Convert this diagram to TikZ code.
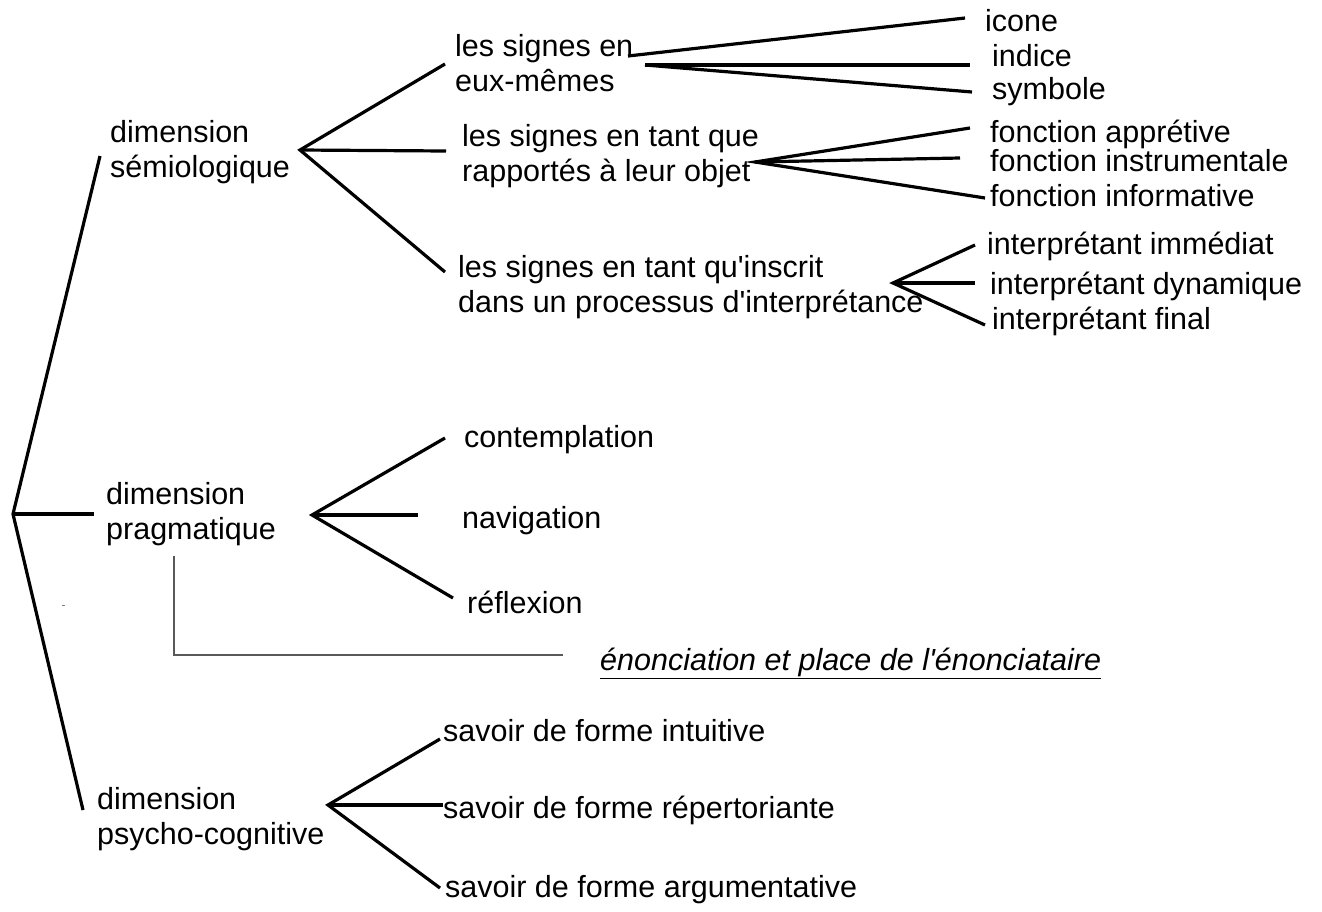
\documentclass[tikz,border=0pt]{standalone}
\usepackage{fontspec}
\setmainfont{Liberation Sans}
\newcommand\aq{\textquotesingle}
\begin{document}
\begin{tikzpicture}[x=1pt,y=-1pt,
  lbl/.style={inner sep=0pt, anchor=base west, align=left, font=\fontsize{30.5}{35}\selectfont},
  br/.style={line width=3.2pt, line join=miter},
  thinline/.style={line width=1.2pt, draw=black!65}]
\useasboundingbox (0,0) rectangle (1322,911);
% labels (multi-line nodes: base = last line's baseline)
\node[lbl] (sem) at (110,177) {dimension\\sémiologique};
\node[lbl] (prag) at (106,539) {dimension\\pragmatique};
\node[lbl] (psy) at (97,844) {dimension\\psycho-cognitive};
\node[lbl] (s1) at (455,91) {les signes en\\eux-mêmes};
\node[lbl] (s2) at (462,181) {les signes en tant que\\rapportés à leur objet};
\node[lbl] (s3) at (458,312) {les signes en tant qu\aq inscrit\\dans un processus d\aq interprétance};
\node[lbl] (icone) at (985,31) {icone};
\node[lbl] (indice) at (992,66) {indice};
\node[lbl] (symbole) at (992,99) {symbole};
\node[lbl] (fa) at (990,142) {fonction apprétive};
\node[lbl] (fi) at (990,171) {fonction instrumentale};
\node[lbl] (finf) at (990,206) {fonction informative};
\node[lbl] (ii) at (987,254) {interprétant immédiat};
\node[lbl] (id) at (990,294) {interprétant dynamique};
\node[lbl] (ifin) at (992,329) {interprétant final};
\node[lbl] (cont) at (464,447) {contemplation};
\node[lbl] (nav) at (462,528) {navigation};
\node[lbl] (refl) at (467,613) {réflexion};
\node[lbl] (enon) at (600,670) {\underline{\itshape énonciation et place de l\aq énonciataire}};
\node[lbl] (sav1) at (443,741) {savoir de forme intuitive};
\node[lbl] (sav2) at (443,818) {savoir de forme répertoriante};
\node[lbl] (sav3) at (445,897) {savoir de forme argumentative};
% trunk
\coordinate (t0) at (13,514);
\coordinate (tTop) at (100,156);
\coordinate (tMid) at (94,514);
\coordinate (tBot) at (83,810);
\draw[br] (tTop) -- (t0) -- (tBot);
\draw[br] (t0) -- (tMid);
% semiologique fork
\coordinate (f0) at (300,150);
\coordinate (f1) at (445,64);
\coordinate (f2) at (446,151);
\coordinate (f3) at (445,272);
\draw[br] (f1) -- (f0) -- (f3);
\draw[br] (f0) -- (f2);
% s1 fork
\coordinate (g0) at (628,56);
\coordinate (g0e) at (965,18);
\coordinate (g1) at (645,65);
\coordinate (g1e) at (970,65);
\coordinate (g2e) at (972,92);
\draw[br] (g0) -- (g0e);
\draw[br] (g1) -- (g1e);
\draw[br] (g1) -- (g2e);
% s2 fork
\coordinate (h0) at (755,162);
\coordinate (h1) at (970,128);
\coordinate (h2) at (960,158);
\coordinate (h3) at (985,198);
\draw[br] (h1) -- (h0) -- (h3);
\draw[br] (h0) -- (h2);
% s3 fork
\coordinate (k0) at (893,283);
\coordinate (k1) at (975,245);
\coordinate (k2) at (975,283);
\coordinate (k3) at (985,325);
\draw[br] (k1) -- (k0) -- (k3);
\draw[br] (k0) -- (k2);
% pragmatique fork
\coordinate (p0) at (312,515);
\coordinate (p1) at (445,438);
\coordinate (p2) at (418,515);
\coordinate (p3) at (453,598);
\draw[br] (p1) -- (p0) -- (p3);
\draw[br] (p0) -- (p2);
% psycho-cognitive fork
\coordinate (q0) at (328,805);
\coordinate (q1) at (440,739);
\coordinate (q2) at (443,805);
\coordinate (q3) at (440,888);
\draw[br] (q1) -- (q0) -- (q3);
\draw[br] (q0) -- (q2);
% thin line to enonciation
\coordinate (e0) at (174,556);
\coordinate (e1) at (174,655);
\coordinate (e2) at (563,655);
\draw[thinline] (e0) -- (e1) -- (e2);
% tiny mark
\coordinate (m0) at (62,605);
\coordinate (m1) at (65,605);
\draw[line width=1pt, black!50] (m0) -- (m1);
\end{tikzpicture}
\end{document}
